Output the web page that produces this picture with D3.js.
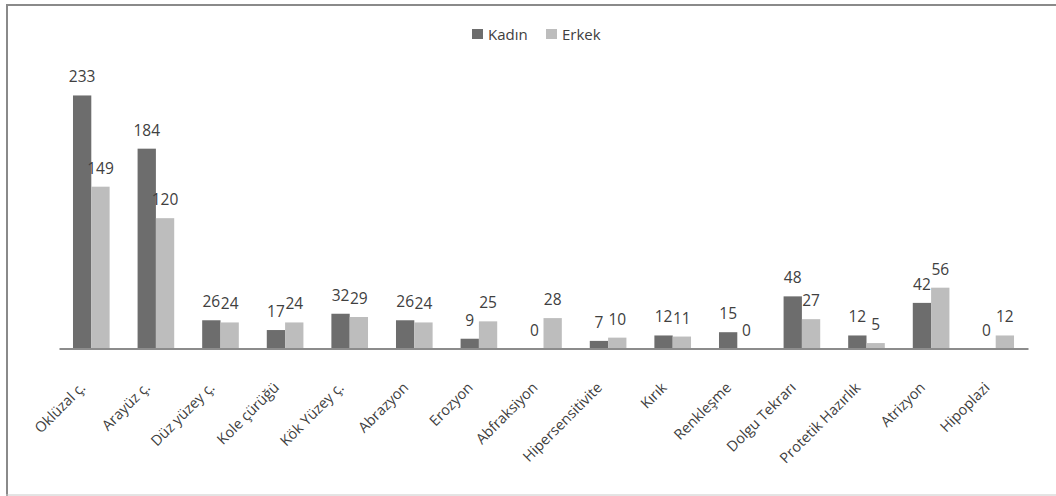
<!DOCTYPE html>
<html>
<head>
<meta charset="utf-8">
<script src="https://cdn.jsdelivr.net/npm/d3@7"></script>
<style>
  html, body { margin: 0; padding: 0; background: #fff; }
  svg { display: block; font-family: "Open Sans", "Liberation Sans", sans-serif; }
</style>
</head>
<body>
<svg id="chart" width="1056" height="496"></svg>
<script>
// Categories and counts per gender
const categories = [
  "Oklüzal ç.", "Arayüz ç.", "Düz yüzey ç.", "Kole çürüğü", "Kök Yüzey ç.",
  "Abrazyon", "Erozyon", "Abfraksiyon", "Hipersensitivite", "Kırık",
  "Renkleşme", "Dolgu Tekrarı", "Protetik Hazırlık", "Atrizyon", "Hipoplazi"
];
const seriesNames = ["Kadın", "Erkek"];
const kadin = [233, 184, 26, 17, 32, 26, 9, 0, 7, 12, 15, 48, 12, 42, 0];
const erkek = [149, 120, 24, 24, 29, 24, 25, 28, 10, 11, 0, 27, 5, 56, 12];
const seriesColors = ["#6d6d6d", "#bdbdbd"];

const svg = d3.select("#chart");
const textColor = "#404040";

// Outer frame
svg.append("line").attr("x1", 6).attr("x2", 1056).attr("y1", 5).attr("y2", 5)
  .attr("stroke", "#8a8a8a").attr("stroke-width", 2);
svg.append("line").attr("x1", 7).attr("x2", 7).attr("y1", 4).attr("y2", 496)
  .attr("stroke", "#8a8a8a").attr("stroke-width", 2);
svg.append("line").attr("x1", 6).attr("x2", 1056).attr("y1", 495).attr("y2", 495)
  .attr("stroke", "#c8c8c8").attr("stroke-width", 1);

const plot = { left: 59, right: 1028, base: 348.5 };

const x = d3.scaleBand()
  .domain(categories)
  .range([plot.left, plot.right])
  .paddingInner(0.433)
  .paddingOuter(0.2165);

const x1 = d3.scaleBand()
  .domain(seriesNames)
  .range([0, x.bandwidth()]);

const y = d3.scaleLinear()
  .domain([0, 250])
  .range([plot.base, plot.base - 271.5]);

const rows = categories.map((c, i) => ({
  cat: c,
  values: [
    { key: "Kadın", value: kadin[i] },
    { key: "Erkek", value: erkek[i] }
  ]
}));

const color = d3.scaleOrdinal().domain(seriesNames).range(seriesColors);

const groups = svg.append("g").selectAll("g")
  .data(rows).join("g")
  .attr("transform", d => `translate(${x(d.cat)},0)`);

groups.selectAll("rect")
  .data(d => d.values).join("rect")
  .attr("x", d => x1(d.key))
  .attr("width", x1.bandwidth())
  .attr("y", d => y(d.value))
  .attr("height", d => y(0) - y(d.value))
  .attr("fill", d => color(d.key));

// Value labels above each bar
groups.selectAll("text")
  .data(d => d.values).join("text")
  .attr("x", d => x1(d.key) + x1.bandwidth() / 2)
  .attr("y", d => y(d.value) - 13)
  .attr("text-anchor", "middle")
  .attr("font-size", 15.5)
  .attr("fill", textColor)
  .text(d => d.value);

// Category axis
const xAxis = svg.append("g")
  .attr("transform", `translate(0,${plot.base})`)
  .call(d3.axisBottom(x).tickSize(0).tickSizeOuter(0));
xAxis.select(".domain").attr("stroke", "#8c8c8c").attr("stroke-width", 2);
xAxis.selectAll(".tick text")
  .attr("font-size", 14.5)
  .attr("font-family", "'Open Sans', 'Liberation Sans', sans-serif")
  .attr("fill", textColor)
  .attr("text-anchor", "end")
  .attr("dy", null)
  .attr("y", 0)
  .attr("transform", "translate(-5,40) rotate(-45)");

// Legend
const legend = svg.append("g").attr("transform", "translate(472,29)");
const legendItems = legend.selectAll("g")
  .data(seriesNames).join("g")
  .attr("transform", (d, i) => `translate(${i * 74},0)`);
legendItems.append("rect")
  .attr("width", 11).attr("height", 10)
  .attr("fill", d => color(d));
legendItems.append("text")
  .attr("x", 16).attr("y", 10.5)
  .attr("font-size", 15)
  .attr("fill", textColor)
  .text(d => d);
</script>
</body>
</html>
